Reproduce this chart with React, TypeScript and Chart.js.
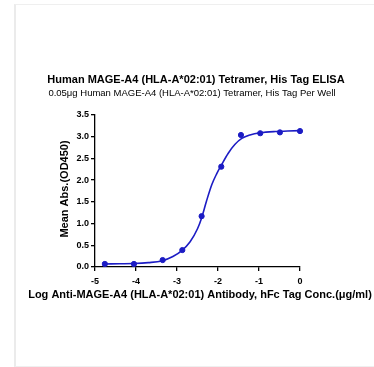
import React, { useEffect, useRef } from "react";
import { Chart, registerables } from "chart.js";

Chart.register(...registerables);

const TITLE = "Human MAGE-A4 (HLA-A*02:01) Tetramer, His Tag ELISA";
const SUBTITLE = "0.05μg Human MAGE-A4 (HLA-A*02:01) Tetramer, His Tag Per Well";
const X_TITLE = "Log Anti-MAGE-A4 (HLA-A*02:01) Antibody, hFc Tag Conc.(μg/ml)";
const Y_TITLE = "Mean Abs.(OD450)";

const pointX = [-4.76, -4.05, -3.35, -2.87, -2.4, -1.92, -1.44, -0.97, -0.49, 0.0];
const pointY = [0.07, 0.07, 0.16, 0.39, 1.17, 2.31, 3.04, 3.08, 3.1, 3.13];

const curveX = [-4.76, -4.4, -4.05, -3.7, -3.37, -3.1, -2.89, -2.68, -2.5, -2.4, -2.28, -2.15, -2.03, -1.91, -1.75, -1.59, -1.42, -1.22, -0.97, -0.6, -0.3, 0];
const curveY = [0.07, 0.075, 0.08, 0.1, 0.14, 0.24, 0.37, 0.58, 0.88, 1.13, 1.52, 1.9, 2.15, 2.36, 2.62, 2.82, 2.96, 3.04, 3.09, 3.12, 3.13, 3.14];

const BLUE = "#1c1cc4";
const FONT = '"Liberation Sans", Arial, Helvetica, sans-serif';

const textPlugin = {
  id: "texts",
  afterDraw(chart: any) {
    const ctx = chart.ctx;
    const area = chart.chartArea;
    ctx.save();
    ctx.fillStyle = "#000";
    ctx.textAlign = "center";
    ctx.textBaseline = "middle";
    ctx.font = `bold 11px ${FONT}`;
    ctx.fillText(TITLE, 196, 80);
    ctx.font = `9.5px ${FONT}`;
    ctx.fillText(SUBTITLE, 192, 93);
    ctx.font = `bold 11px ${FONT}`;
    ctx.fillText(X_TITLE, 200, 295);
    ctx.translate(65, 189);
    ctx.rotate(-Math.PI / 2);
    ctx.font = `bold 11px ${FONT}`;
    ctx.fillText(Y_TITLE, 0, 0);
    ctx.restore();
  },
};

export default function App() {
  const ref = useRef<HTMLCanvasElement | null>(null);
  useEffect(() => {
    if (!ref.current) return;
    const chart = new Chart(ref.current, {
      type: "scatter",
      data: {
        datasets: [
          {
            type: "line",
            data: curveX.map((x, i) => ({ x, y: curveY[i] })),
            borderColor: BLUE,
            borderWidth: 1.6,
            pointRadius: 0,
            fill: false,
            cubicInterpolationMode: "monotone",
            clip: false,
          } as any,
          {
            data: pointX.map((x, i) => ({ x, y: pointY[i] })),
            backgroundColor: BLUE,
            borderColor: BLUE,
            pointRadius: 2.6,
            showLine: false,
            clip: false,
          } as any,
        ],
      },
      options: {
        responsive: false,
        animation: false,
        layout: { padding: { left: 0, top: 115, right: 74, bottom: 0 } },
        plugins: { legend: { display: false }, tooltip: { enabled: false }, title: { display: false } },
        scales: {
          x: {
            type: "linear",
            min: -5,
            max: 0,
            ticks: { stepSize: 1, color: "#000", font: { family: FONT, size: 9, weight: "bold" }, padding: 5 },
            grid: { drawOnChartArea: false, drawTicks: true, tickLength: 4, color: "#000", lineWidth: 1.3 },
            border: { display: true, color: "#000", width: 1.3 },
            afterFit: (s: any) => {
              s.height = 100;
            },
          },
          y: {
            type: "linear",
            min: 0,
            max: 3.5,
            ticks: {
              stepSize: 0.5,
              color: "#000",
              font: { family: FONT, size: 9, weight: "bold" },
              padding: 2,
              callback: (v: any) => Number(v).toFixed(1),
            },
            grid: { drawOnChartArea: false, drawTicks: true, tickLength: 4, color: "#000", lineWidth: 1.3 },
            border: { display: true, color: "#000", width: 1.3 },
            afterFit: (s: any) => {
              s.width = 95;
            },
          },
        },
      } as any,
      plugins: [textPlugin],
    });
    return () => chart.destroy();
  }, []);
  return (
    <div style={{ position: "fixed", left: 0, top: 0, width: 374, height: 367, background: "#fff", overflow: "hidden" }}>
      <div
        style={{
          position: "absolute",
          left: 14,
          top: 4,
          width: 420,
          height: 363,
          boxSizing: "border-box",
          borderLeft: "2px solid #ebebeb",
          borderTop: "1.5px solid #efefef",
          borderBottom: "1.5px solid #efefef",
        }}
      />
      <canvas ref={ref} width={374} height={367} style={{ position: "absolute", left: 0, top: 0 }} />
    </div>
  );
}
